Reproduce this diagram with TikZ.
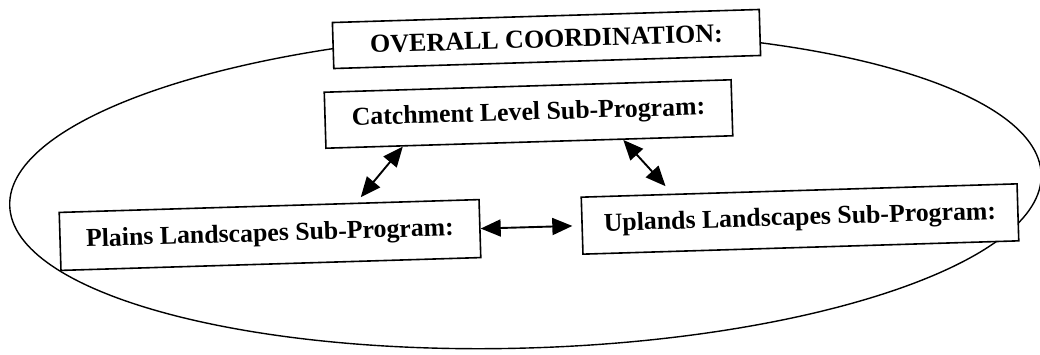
\documentclass[tikz,border=0pt]{standalone}
\usepackage{fontspec}
\setmainfont{Liberation Serif}
\usetikzlibrary{arrows.meta,calc}
\begin{document}
\begin{tikzpicture}[x=1pt,y=-1pt,
  box/.style={draw, line width=1.6pt, fill=white, rectangle, inner sep=0pt,
              rotate=1.75, font=\fontsize{25.8}{30}\selectfont\bfseries},
  link/.style={line width=1.9pt,
               {Triangle[length=20pt,width=17pt]}-{Triangle[length=20pt,width=17pt]}},
]
\useasboundingbox (0,0) rectangle (1040,354);
\fill[white] (0,0) rectangle (1040,354);

% enclosing ellipse
\coordinate (c) at (525.5,190);
\draw[line width=1.4pt, rotate around={1.75:(c)}] (c) ellipse [x radius=516, y radius=158];

% programme boxes (trailing space keeps each label a little left of centre)
\node[box, minimum width=427pt, minimum height=46pt,
      font=\fontsize{26}{30}\selectfont\bfseries] (overall) at (546.5,39)
      {OVERALL COORDINATION:\hspace{34pt}};
\node[box, minimum width=407pt, minimum height=56pt] (catch) at (528.5,114)
      {Catchment Level Sub-Program:\hspace{14pt}};
\node[box, minimum width=420pt, minimum height=58pt] (plains) at (270,235)
      {Plains Landscapes Sub-Program:\hspace{10pt}};
\node[box, minimum width=436pt, minimum height=57pt] (uplands) at (800,219)
      {Uplands Landscapes Sub-Program:\hspace{7pt}};

% two-way links
\draw[link, shorten >=7pt]
  ($(catch.south west)!0.19!(catch.south east)$) -- ($(plains.north west)!0.707!(plains.north east)$);
\draw[link, shorten >=10pt]
  ($(catch.south west)!0.73!(catch.south east)$) -- ($(uplands.north west)!0.21!(uplands.north east)$);
\draw[link, shorten >=9pt] (plains.east) -- (uplands.west);
\end{tikzpicture}
\end{document}
